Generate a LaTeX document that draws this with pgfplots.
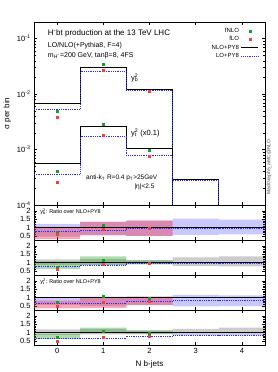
\documentclass[border=0pt]{standalone}
\usepackage{fontspec}
\setmainfont{Liberation Sans}
\usepackage{pgfplots}
\pgfplotsset{compat=1.18}
\definecolor{fgreen}{RGB}{20,160,40}
\definecolor{fred}{RGB}{250,60,60}
\definecolor{lblue}{RGB}{45,45,250}
\definecolor{bandblue}{RGB}{40,40,255}
\definecolor{bandred}{RGB}{240,40,60}
\definecolor{bandgreen}{RGB}{30,150,30}
\pgfplotsset{
 common/.style={scale only axis, width=231pt, xmin=-0.5, xmax=4.5,
   xtick={0,1,2,3,4}, xticklabels={}, tick align=inside,
   major tick length=3pt, minor tick length=1.5pt,
   axis line style={line width=0.5pt},
   every tick/.style={black, line width=0.4pt},
   tick label style={font=\fontsize{7.5}{8}\selectfont}},
 rp/.style={common, height=35pt, anchor=south west, ymin=0.25, ymax=2.35,
   ytick={0.5,1,1.5,2}, yticklabels={0.5,1,1.5,2}, minor y tick num=4},
 hist/.style={const plot, line width=0.7pt},
 nlo/.style={hist, black},
 lo/.style={hist, lblue, dash pattern=on 1pt off 0.8pt, line width=0.8pt},
 fnlo/.style={only marks, mark=square*, mark size=1pt, fgreen},
 flo/.style={only marks, mark=square*, mark size=1pt, fred},
}
\begin{document}
\begin{tikzpicture}
\useasboundingbox (0,0) rectangle (277pt,372pt);
% ---------------- main panel ----------------
\begin{axis}[common, height=183pt, at={(34pt,167pt)}, anchor=south west,
  ymode=log, ymin=1e-4, ymax=0.2,
  ytick={1e-4,1e-3,1e-2,1e-1},
  yticklabels={10\textsuperscript{-4},10\textsuperscript{-3},10\textsuperscript{-2},10\textsuperscript{-1}},
  ylabel={σ per bin}, ylabel style={font=\fontsize{8}{9}\selectfont, yshift=-1pt},
  legend style={draw=none, fill=none, at={(0.987,0.989)}, anchor=north east,
    font=\fontsize{6}{7}\selectfont, row sep=-1.5pt, cells={anchor=east}},
  legend plot pos=right]
\addlegendimage{fnlo}\addlegendentry{fNLO}
\addlegendimage{flo}\addlegendentry{fLO}
\addlegendimage{black, line width=0.7pt}\addlegendentry{NLO+PY8}
\addlegendimage{lo}\addlegendentry{LO+PY8}
% y_b^2
\addplot[nlo] coordinates {(-0.5,6.7e-3) (0.5,3.05e-2) (1.5,1.21e-2) (2.5,1e-6) (4.5,1e-6)};
\addplot[lo] coordinates {(-0.5,5.3e-3) (0.5,2.56e-2) (1.5,1.16e-2) (2.5,1e-6) (4.5,1e-6)};
\addplot[fnlo] coordinates {(0,4.95e-3) (1,3.4e-2) (2,1.15e-2)};
\addplot[flo] coordinates {(0,3.8e-3) (1,2.67e-2) (2,1.12e-2)};
% y_t^2 (x0.1)
\addplot[nlo] coordinates {(-0.5,5.6e-4) (0.5,2.6e-3) (1.5,1.03e-3) (2.5,2.9e-4) (3.5,1e-6) (4.5,1e-6)};
\addplot[lo] coordinates {(-0.5,3.6e-4) (0.5,1.74e-3) (1.5,7.9e-4) (2.5,2.75e-4) (3.5,1e-6) (4.5,1e-6)};
\addplot[fnlo] coordinates {(0,4.05e-4) (1,2.86e-3) (2,9.8e-4)};
\addplot[flo] coordinates {(0,2.6e-4) (1,1.82e-3) (2,7.7e-4)};
\node[anchor=west, font=\fontsize{8}{9}\selectfont] at (rel axis cs:0.045,0.94) {H\textsuperscript{-}bt production at the 13 TeV LHC};
\node[anchor=west, font=\fontsize{7}{8}\selectfont] at (rel axis cs:0.045,0.869) {LO/NLO(+Pythia8, F=4)};
\node[anchor=west, font=\fontsize{7}{8}\selectfont] at (rel axis cs:0.045,0.814) {m\textsubscript{H\textsuperscript{-}}=200 GeV, tanβ=8, 4FS};
\node[anchor=west, font=\fontsize{7.5}{8}\selectfont] at (rel axis cs:0.405,0.694) {y\rlap{\textsubscript{b}}\textsuperscript{2}};
\node[anchor=west, font=\fontsize{7.5}{8}\selectfont] at (rel axis cs:0.405,0.393) {y\rlap{\textsubscript{t}}\textsuperscript{2} (x0.1)};
\node[anchor=west, font=\fontsize{6.5}{7}\selectfont] at (rel axis cs:0.21,0.148) {anti-k\textsubscript{T} R=0.4 p\textsubscript{T}>25GeV};
\node[anchor=west, font=\fontsize{6.5}{7}\selectfont] at (rel axis cs:0.42,0.098) {|η|<2.5};
\end{axis}
\node[rotate=90, font=\fontsize{5}{6}\selectfont, text=black!70] at (269pt,205pt) {MadGraph5\_aMC@NLO};
% ---------------- ratio 1: y_b^2 LO ----------------
\begin{axis}[rp, at={(34pt,132pt)}]
\addplot[fill=bandblue, fill opacity=0.25, draw=none] coordinates {(-0.5,1.22)(0.5,1.22)(0.5,1.32)(1.5,1.32)(1.5,1.4)(2.5,1.4)(2.5,1.53)(3.5,1.53)(3.5,1.47)(4.5,1.47)(4.5,0.58)(3.5,0.58)(3.5,0.55)(2.5,0.55)(2.5,0.5)(1.5,0.5)(1.5,0.52)(0.5,0.52)(0.5,0.45)(-0.5,0.45)};
\addplot[fill=bandred, fill opacity=0.4, draw=none] coordinates {(-0.5,1.04)(0.5,1.04)(0.5,1.35)(1.5,1.35)(1.5,1.43)(2.5,1.43)(2.5,0.49)(1.5,0.49)(1.5,0.54)(0.5,0.54)(0.5,0.3)(-0.5,0.3)};
\addplot[nlo] coordinates {(-0.5,1)(4.5,1)};
\addplot[lo] coordinates {(-0.5,0.77)(0.5,0.84)(1.5,0.96)(2.5,0.96)(3.5,0.96)(4.5,0.96)};
\addplot[fnlo] coordinates {(0,0.73)(1,1.12)(2,0.95)};
\addplot[flo] coordinates {(0,0.57)(1,0.88)(2,0.93)};
\node[anchor=west, font=\fontsize{5.5}{6}\selectfont] at (rel axis cs:0.012,0.8) {y\rlap{\textsubscript{b}}\textsuperscript{2}: Ratio over NLO+PY8};
\end{axis}
% ---------------- ratio 2: y_b^2 NLO ----------------
\begin{axis}[rp, at={(34pt,97pt)}]
\addplot[fill=black, fill opacity=0.2, draw=none] coordinates {(-0.5,1.19)(0.5,1.19)(0.5,1.2)(1.5,1.2)(1.5,1.14)(2.5,1.14)(2.5,1.3)(3.5,1.3)(3.5,1.36)(4.5,1.36)(4.5,0.76)(3.5,0.76)(3.5,0.8)(2.5,0.8)(2.5,0.9)(1.5,0.9)(1.5,0.86)(0.5,0.86)(0.5,0.84)(-0.5,0.84)};
\addplot[fill=bandgreen, fill opacity=0.35, draw=none] coordinates {(-0.5,1.07)(0.5,1.07)(0.5,1.37)(1.5,1.37)(1.5,1.12)(2.5,1.12)(2.5,0.88)(1.5,0.88)(1.5,0.84)(0.5,0.84)(0.5,0.62)(-0.5,0.62)};
\addplot[nlo] coordinates {(-0.5,1)(4.5,1)};
\addplot[lo] coordinates {(-0.5,0.77)(0.5,0.84)(1.5,0.96)(2.5,0.96)(3.5,0.96)(4.5,0.96)};
\addplot[fnlo] coordinates {(0,0.73)(1,1.12)(2,0.95)};
\addplot[flo] coordinates {(0,0.57)(1,0.88)(2,0.93)};
\end{axis}
% ---------------- ratio 3: y_t^2 LO ----------------
\begin{axis}[rp, at={(34pt,62pt)}]
\addplot[fill=bandblue, fill opacity=0.25, draw=none] coordinates {(-0.5,0.97)(0.5,0.97)(0.5,1.05)(1.5,1.05)(1.5,1.05)(2.5,1.05)(2.5,1.16)(3.5,1.16)(3.5,1.13)(4.5,1.13)(4.5,0.48)(3.5,0.48)(3.5,0.46)(2.5,0.46)(2.5,0.55)(1.5,0.55)(1.5,0.49)(0.5,0.49)(0.5,0.54)(-0.5,0.54)};
\addplot[fill=bandred, fill opacity=0.4, draw=none] coordinates {(-0.5,0.81)(0.5,0.81)(0.5,1.0)(1.5,1.0)(1.5,1.05)(2.5,1.05)(2.5,0.54)(1.5,0.54)(1.5,0.37)(0.5,0.37)(0.5,0.34)(-0.5,0.34)};
\addplot[nlo] coordinates {(-0.5,1)(4.5,1)};
\addplot[lo] coordinates {(-0.5,0.64)(0.5,0.67)(1.5,0.77)(2.5,0.81)(3.5,0.81)(4.5,0.81)};
\addplot[fnlo] coordinates {(0,0.72)(1,1.1)(2,0.95)};
\addplot[flo] coordinates {(0,0.46)(1,0.7)(2,0.75)};
\node[anchor=west, font=\fontsize{5.5}{6}\selectfont] at (rel axis cs:0.012,0.8) {y\rlap{\textsubscript{t}}\textsuperscript{2}: Ratio over NLO+PY8};
\end{axis}
% ---------------- ratio 4: y_t^2 NLO ----------------
\begin{axis}[rp, at={(34pt,27pt)}, xticklabels={0,1,2,3,4},
  xlabel={N b-jets}, xlabel style={font=\fontsize{8}{9}\selectfont}]
\addplot[fill=black, fill opacity=0.2, draw=none] coordinates {(-0.5,1.18)(0.5,1.18)(0.5,1.2)(1.5,1.2)(1.5,1.15)(2.5,1.15)(2.5,1.21)(3.5,1.21)(3.5,1.29)(4.5,1.29)(4.5,0.82)(3.5,0.82)(3.5,0.82)(2.5,0.82)(2.5,0.9)(1.5,0.9)(1.5,0.88)(0.5,0.88)(0.5,0.86)(-0.5,0.86)};
\addplot[fill=bandgreen, fill opacity=0.35, draw=none] coordinates {(-0.5,0.9)(0.5,0.9)(0.5,1.29)(1.5,1.29)(1.5,1.09)(2.5,1.09)(2.5,0.9)(1.5,0.9)(1.5,0.94)(0.5,0.94)(0.5,0.62)(-0.5,0.62)};
\addplot[nlo] coordinates {(-0.5,1)(4.5,1)};
\addplot[lo] coordinates {(-0.5,0.64)(0.5,0.67)(1.5,0.77)(2.5,0.81)(3.5,0.81)(4.5,0.81)};
\addplot[fnlo] coordinates {(0,0.72)(1,1.1)(2,0.95)};
\addplot[flo] coordinates {(0,0.46)(1,0.7)(2,0.75)};
\end{axis}
\end{tikzpicture}
\end{document}
